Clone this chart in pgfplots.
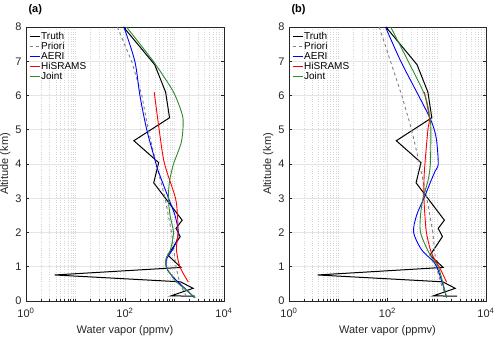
\documentclass[border=0pt]{standalone}
\usepackage{fontspec}
\setmainfont{Liberation Sans}
\usepackage{pgfplots}
\pgfplotsset{compat=1.18}
\definecolor{jointg}{HTML}{2E8B2E}
\definecolor{axgray}{HTML}{262626}

\pgfplotsset{
  every axis/.append style={
    scale only axis,
    width=198pt, height=274pt,
    xmin=1, xmax=10000, ymin=0, ymax=8,
    xtick={1,100,10000},
    xticklabels={10\textsuperscript{0},10\textsuperscript{2},10\textsuperscript{4}},
    minor xtick={2,3,4,5,6,7,8,9,10,20,30,40,50,60,70,80,90,200,300,400,500,600,700,800,900,1000,2000,3000,4000,5000,6000,7000,8000,9000},
    ytick={0,1,...,8},
    /pgf/number format/assume math mode=true,
    tick align=inside, tickwidth=3pt, subtickwidth=1.5pt,
    tick style={axgray, line width=0.5pt},
    axis line style={axgray, line width=0.5pt},
    grid=both,
    major grid style={black!10, line width=0.5pt},
    minor grid style={black!16, dotted, line width=0.35pt},
    ticklabel style={font=\fontsize{11}{12}\selectfont, text=axgray},
    xticklabel style={yshift=-4pt},
    yticklabel style={xshift=-1pt},
    label style={font=\fontsize{11}{12}\selectfont, text=axgray},
    xlabel={Water vapor (ppmv)},
    ylabel={Altitude (km)},
    xlabel style={yshift=-1pt},
    ylabel style={yshift=-2pt},
    title style={at={(0,1)}, anchor=south west, font=\bfseries\fontsize{11}{12}\selectfont, xshift=-1pt, yshift=3pt},
    legend style={draw=none, fill=none, at={(0.01,0.99)}, anchor=north west,
      font=\fontsize{10}{11}\selectfont, row sep=-0.5pt, inner sep=1pt,
      nodes={inner sep=1pt}},
    legend cell align=left,
  },
  every axis plot/.append style={line width=0.9pt},
  legend image code/.code={\draw[#1, line width=1pt] (0pt,0pt) -- (10pt,0pt);},
}

\begin{document}
\begin{tikzpicture}[x=1pt,y=1pt]
\useasboundingbox (0,0) rectangle (500,339);

\begin{semilogxaxis}[at={(26pt,38pt)}, anchor=south west, title={(a)}]
\addplot[black, line width=1pt] coordinates {(93,8.0) (398,6.9) (661,6.1) (794,5.35) (151,4.68) (479,4.04) (380,3.45) (1429,2.36) (1072,2.12) (1303,1.88) (733,1.34) (1349,0.98) (3.8,0.76) (1318,0.56) (2371,0.37) (851,0.15) (2600,0.14)};
\addlegendentry{Truth}
\addplot[black!50, dash pattern=on 3pt off 3pt] coordinates {(70,8) (136,7) (219,6) (295,5) (427,4) (646,3) (871,2) (1072,1) (1288,0.5) (1778,0.1)};
\addlegendentry{Priori}
\addplot[blue, smooth, tension=0.5] coordinates {(95,8) (158,7) (200,6) (275,5) (389,4.2) (468,3.8) (759,3) (1023,2.5) (1202,2) (1096,1.75) (912,1.5) (708,1.25) (676,1.1) (724,0.9) (1096,0.6) (1820,0.3) (2512,0.1)};
\addlegendentry{AERI}
\addplot[red, smooth, tension=0.5] coordinates {(389,6.1) (490,5) (589,4.2) (692,3.8) (1047,3) (1148,2.5) (1175,2) (1096,1.5) (1288,1) (1905,0.55)};
\addlegendentry{HiSRAMS}
\addplot[jointg, smooth, tension=0.4] coordinates {(107,8) (372,7) (955,6.1) (1479,5.35) (1380,4.65) (955,4) (794,3.5) (750,3) (813,2.5) (955,2) (832,1.5) (676,1.25) (676,1) (1023,0.6) (1778,0.3) (2630,0.1)};
\addlegendentry{Joint}
\end{semilogxaxis}

\begin{semilogxaxis}[at={(289pt,38pt)}, anchor=south west, width=197pt, title={(b)}]
\addplot[black, line width=1pt] coordinates {(93,8.0) (398,6.9) (661,6.1) (794,5.35) (151,4.68) (479,4.04) (380,3.45) (1429,2.36) (1072,2.12) (1303,1.88) (733,1.34) (1349,0.98) (3.8,0.76) (1318,0.56) (2371,0.37) (851,0.15) (2600,0.14)};
\addlegendentry{Truth}
\addplot[black!50, dash pattern=on 3pt off 3pt] coordinates {(68,8) (115,7) (195,6) (309,5) (447,4) (631,3) (832,2) (977,1) (1230,0.5) (1585,0.1)};
\addlegendentry{Priori}
\addplot[blue, smooth, tension=0.5] coordinates {(91,8) (186,7) (427,6) (724,5.35) (891,5) (1000,4.65) (1072,4) (933,3.8) (759,3.5) (550,3) (389,2.5) (339,2) (490,1.5) (794,1.2) (1000,1) (1318,0.5) (1585,0.1)};
\addlegendentry{AERI}
\addplot[red, smooth, tension=0.5] coordinates {(562,6.1) (708,5.35) (661,5) (575,4) (550,3.5) (550,3) (575,2.5) (617,2) (741,1.5) (912,1.2) (1122,1) (1585,0.55)};
\addlegendentry{HiSRAMS}
\addplot[jointg, smooth, tension=0.5] coordinates {(116,8) (263,7) (575,6) (724,5.35) (759,5) (741,4) (661,3.5) (525,3) (468,2.5) (468,2) (646,1.5) (851,1.2) (1072,1) (1349,0.5) (1585,0.1)};
\addlegendentry{Joint}
\end{semilogxaxis}
\end{tikzpicture}
\end{document}
